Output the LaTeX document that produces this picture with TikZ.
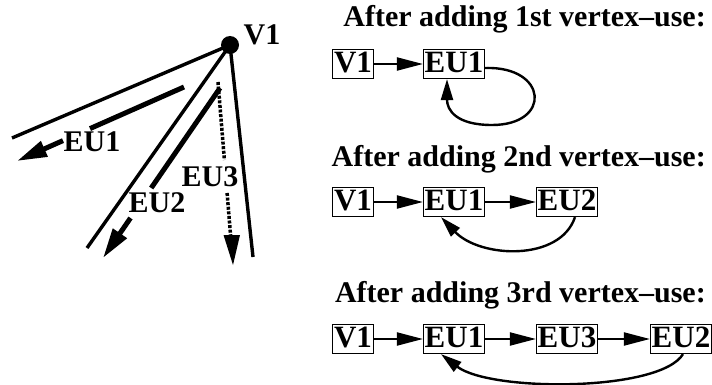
\documentclass[tikz,border=0pt]{standalone}
\usepackage{fontspec}
\setmainfont{Liberation Serif}
\usetikzlibrary{arrows.meta,calc}
\newcommand{\bigbf}{\fontsize{30}{30}\selectfont\bfseries}
\newcommand{\boxbf}{\fontsize{31}{31}\selectfont\bfseries}
\newcommand{\lblbf}{\fontsize{30}{30}\selectfont\bfseries}
\tikzset{
  box/.style={draw, line width=1.2pt, inner xsep=1.2pt, inner ysep=2pt,
    text height=21pt, text depth=4pt, font=\boxbf},
  title/.style={anchor=base east, inner sep=0pt, font=\bigbf},
  link/.style={line width=2pt, -{Triangle[length=26pt,width=13pt]}},
  back/.style={line width=2.4pt, -{Triangle[length=21pt,width=12pt]}},
  thinline/.style={line width=3.4pt},
  thickline/.style={line width=5pt},
  bigtip/.style={-{Triangle[length=30pt,width=16pt]}},
  dotline/.style={line width=3.5pt, dash pattern=on 3pt off 1.6pt},
  lbl/.style={inner sep=0pt, font=\lblbf},
}
\begin{document}
\begin{tikzpicture}[x=1pt,y=-1pt]
\useasboundingbox (0,0) rectangle (712,385);

% ---- left geometric picture ----
\coordinate (v) at (230,45);
\coordinate (l1) at (12,138);
\coordinate (l2) at (87,248);
\coordinate (l3) at (253,257);
\draw[thinline] (v) -- (l1);
\draw[thinline] (v) -- (l2);
\draw[thinline] (v) -- (l3);
\fill (v) circle (9);
\node[lbl] (v1lbl) at (262,35) {V1};

% EU1
\coordinate (a1s) at (184,87);
\coordinate (a1m) at (90,128.6);
\coordinate (a1n) at (63,140.6);
\coordinate (a1e) at (17,161);
\draw[thickline] (a1s) -- (a1m);
\draw[thickline,bigtip] (a1n) -- (a1e);
\node[lbl] (eu1lbl) at (92,142) {EU1};

% EU2
\coordinate (a2s) at (220,88);
\coordinate (a2m) at (151.2,188);
\coordinate (a2n) at (130.5,218);
\coordinate (a2e) at (103,258);
\draw[thickline] (a2s) -- (a2m);
\draw[thickline,bigtip] (a2n) -- (a2e);
\node[lbl] (eu2lbl) at (157,203) {EU2};

% EU3
\coordinate (a3s) at (218,82);
\coordinate (a3m) at (224.4,160);
\coordinate (a3n) at (227.1,193);
\coordinate (a3e) at (233,265);
\draw[dotline] (a3s) -- (a3m);
\draw[dotline] (a3n) -- ($(a3e)!24pt!(a3n)$);
\fill ($(a3e)!30pt!(a3n)$) -- ++(-7,0) -- (a3e) -- ++(7,-30) -- cycle;
\node[lbl] (eu3lbl) at (210,177) {EU3};

% ---- right: lists ----
\node[title] (t1) at (706,27) {After adding 1st vertex–use:};
\node[box] (r1v1) at (353,64) {V1};
\node[box] (r1eu1) at (454,64) {EU1};
\draw[link] (r1v1) -- (r1eu1);
\draw[back] ($(r1eu1.east)+(0,4)$) .. controls (548,66) and (552,125) .. (492,125)
  .. controls (456,125) and (447,110) .. ($(r1eu1.south)+(-7,0)$);

\node[title] (t2) at (706,167) {After adding 2nd vertex–use:};
\node[box] (r2v1) at (353,202) {V1};
\node[box] (r2eu1) at (454,202) {EU1};
\node[box] (r2eu2) at (567,202) {EU2};
\draw[link] (r2v1) -- (r2eu1);
\draw[link] (r2eu1) -- (r2eu2);
\draw[back] ($(r2eu2.south)+(8,0)$) .. controls (560,262) and (480,258) .. ($(r2eu1.south)+(-13,0)$);

\node[title] (t3) at (706,302) {After adding 3rd vertex–use:};
\node[box] (r3v1) at (353,339) {V1};
\node[box] (r3eu1) at (454,339) {EU1};
\node[box] (r3eu3) at (567,339) {EU3};
\node[box] (r3eu2) at (681,339) {EU2};
\draw[link] (r3v1) -- (r3eu1);
\draw[link] (r3eu1) -- (r3eu3);
\draw[link] (r3eu3) -- (r3eu2);
\draw[back] ($(r3eu2.south)+(2,0)$) .. controls (660,392) and (490,392) .. ($(r3eu1.south)+(-13,0)$);
\end{tikzpicture}
\end{document}
